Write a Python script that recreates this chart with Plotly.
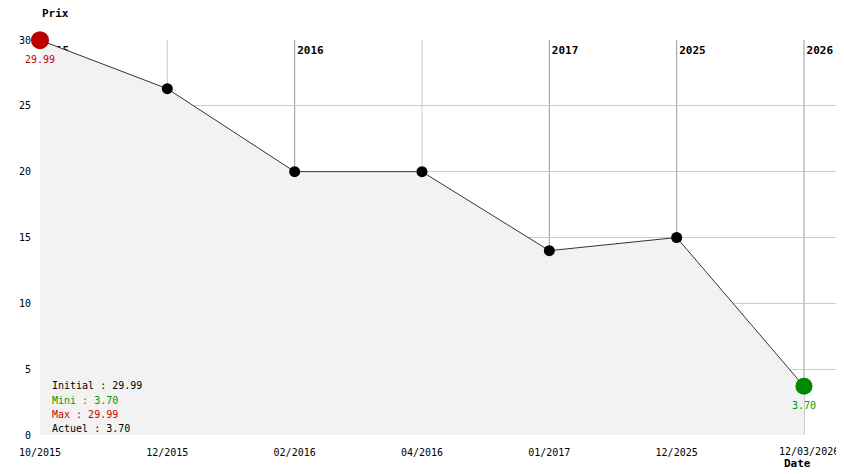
import plotly.graph_objects as go

dates = ["10/2015", "12/2015", "02/2016", "04/2016", "01/2017", "12/2025", "12/03/2026"]
prices = [29.99, 26.3, 20.0, 20.0, 14.0, 15.0, 3.70]
y_ticks = [0, 5, 10, 15, 20, 25, 30]

initial = prices[0]
mini = min(prices)
maxi = max(prices)
actuel = prices[-1]

FONT = "DejaVu Sans Mono"
idx = list(range(len(dates)))
years = [d[-4:] for d in dates]
year_idx = [i for i in idx if i == 0 or years[i] != years[i - 1]]

fig = go.Figure()

# year labels (drawn first, so the area fill covers them where they overlap)
fig.add_trace(go.Scatter(
    x=[i + 0.02 for i in year_idx], y=[29.55] * len(year_idx), mode="text",
    text=["<b>%s</b>" % years[i] for i in year_idx],
    textposition="bottom right",
    textfont=dict(family=FONT, size=11, color="black"),
    hoverinfo="skip", showlegend=False, cliponaxis=False))

# filled area + line
fig.add_trace(go.Scatter(
    x=idx, y=prices, mode="lines", fill="tozeroy",
    fillcolor="#f2f2f2", line=dict(color="#333333", width=1),
    hoverinfo="skip", showlegend=False))

# regular points
mid = [i for i in idx if i not in (0, len(idx) - 1)]
fig.add_trace(go.Scatter(
    x=mid, y=[prices[i] for i in mid], mode="markers",
    marker=dict(color="black", size=11),
    hoverinfo="skip", showlegend=False, cliponaxis=False))

# first (max) and last (min) points
fig.add_trace(go.Scatter(
    x=[0], y=[prices[0]], mode="markers",
    marker=dict(color="#bb0000", size=18),
    hoverinfo="skip", showlegend=False, cliponaxis=False))
fig.add_trace(go.Scatter(
    x=[idx[-1]], y=[prices[-1]], mode="markers",
    marker=dict(color="#008800", size=17),
    hoverinfo="skip", showlegend=False, cliponaxis=False))

# vertical grid lines
for i in idx:
    fig.add_shape(type="line", x0=i, x1=i, y0=0, y1=30, xref="x", yref="y",
                  line=dict(color="#999999" if i in year_idx else "#cccccc", width=1),
                  layer="below")

ann = []
ann.append(dict(x=0, y=prices[0], xref="x", yref="y", text="%.2f" % prices[0],
                showarrow=False, yshift=-19, font=dict(family=FONT, size=10, color="#cc0000")))
ann.append(dict(x=idx[-1], y=prices[-1], xref="x", yref="y", text="%.2f" % prices[-1],
                showarrow=False, yshift=-19, font=dict(family=FONT, size=10, color="#009900")))

stats = [("Initial : %.2f" % initial, "black", 385),
         ("Mini : %.2f" % mini, "#009900", 400),
         ("Max : %.2f" % maxi, "#cc0000", 414),
         ("Actuel : %.2f" % actuel, "black", 428)]
for txt, col, py in stats:
    ann.append(dict(x=(50 - 40) / 804, y=(435 - py) / 395, xref="paper", yref="paper",
                    xanchor="left", yanchor="middle", text=txt, showarrow=False,
                    font=dict(family=FONT, size=10, color=col)))

ann.append(dict(x=(777 - 40) / 804, y=(435 - 451) / 395, xref="paper", yref="paper",
                xanchor="left", yanchor="middle", text=dates[-1], showarrow=False,
                font=dict(family=FONT, size=10, color="black")))
ann.append(dict(x=(782 - 40) / 804, y=(435 - 463) / 395, xref="paper", yref="paper",
                xanchor="left", yanchor="middle", text="<b>Date</b>", showarrow=False,
                font=dict(family=FONT, size=11, color="black")))
ann.append(dict(x=0, y=(435 - 13) / 395, xref="paper", yref="paper",
                xanchor="left", yanchor="middle", text="<b>Prix</b>", showarrow=False,
                font=dict(family=FONT, size=11, color="black")))

# page body has an 8px margin: compensate so the plot area spans x 40..844, y 40..435
fig.update_layout(
    width=836, height=466,
    margin=dict(l=32, r=0, t=32, b=39),
    paper_bgcolor="white", plot_bgcolor="white",
    font=dict(family=FONT, size=10, color="black"),
    annotations=ann,
    xaxis=dict(range=[0, 804 / 127.33], tickvals=idx[:-1], ticktext=dates[:-1],
               showgrid=False, zeroline=False, showline=False,
               ticks="outside", ticklen=8, tickcolor="rgba(0,0,0,0)",
               tickfont=dict(family=FONT, size=10, color="black")),
    yaxis=dict(range=[0, 30], tickvals=y_ticks, showgrid=True, gridcolor="#cccccc",
               gridwidth=1, zeroline=False, showline=False,
               ticks="outside", ticklen=6, tickcolor="rgba(0,0,0,0)",
               tickfont=dict(family=FONT, size=10, color="black")),
)

fig.write_html("out.html")
